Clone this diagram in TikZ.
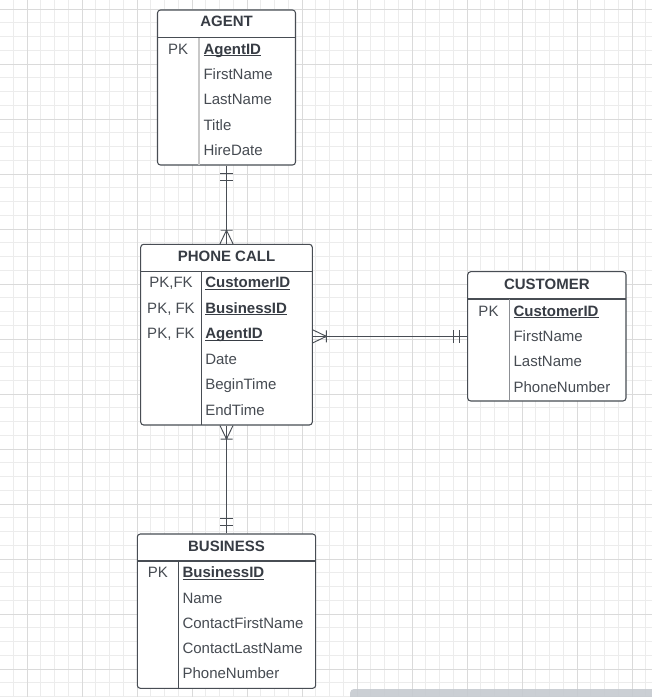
\documentclass[tikz,border=0pt]{standalone}
\usepackage{fontspec}
\setmainfont{Liberation Sans}
\usepackage{xcolor}
\definecolor{erdark}{RGB}{72,77,84}
\definecolor{ertext}{RGB}{70,75,82}
\definecolor{ertitle}{RGB}{55,60,68}
\definecolor{erlightdiv}{RGB}{200,200,200}
\definecolor{ermiddiv}{RGB}{140,143,148}
\definecolor{gridminor}{RGB}{236,236,236}
\definecolor{gridmajor}{RGB}{218,218,218}
\definecolor{scrollgray}{RGB}{198,202,208}
\usepackage{tikz}
\usetikzlibrary{calc}
\newcommand\erpx{0.75pt}
\newcommand\ulkey[1]{\setbox0\hbox{#1}\rlap{\rule[-1.4pt]{\wd0}{0.75pt}}\box0}
\tikzset{
  tbl/.style={draw=erdark, line width=0.8pt, fill=white, rounded corners=2.25pt, inner sep=0pt},
  ttl/.style={font=\fontsize{11.25}{13}\selectfont\bfseries, text=ertitle, anchor=base, inner sep=0pt},
  keytxt/.style={font=\fontsize{11.25}{13}\selectfont, text=ertext, anchor=base, inner sep=0pt},
  attr/.style={font=\fontsize{11.25}{13}\selectfont, text=ertext, anchor=base west, inner sep=0pt},
  pkattr/.style={attr, font=\fontsize{11.25}{13}\selectfont\bfseries, text=ertitle},
  hdrline/.style={erdark, line width=0.9pt},
  conn/.style={erdark, line width=0.7pt},
}

\begin{document}
\begin{tikzpicture}[x=0.75pt, y=-0.75pt]
  \useasboundingbox (0,0) rectangle (652,697);
  % background grid
  \begin{scope}
    \clip (0,0) rectangle (652,697);
    \fill[white] (0,0) rectangle (652,697);
    \foreach \i in {0,...,48} \draw[gridminor, line width=0.75pt] ({-0.5+13.75*\i},0) -- ++(0,697);
    \foreach \i in {0,...,51} \draw[gridminor, line width=0.75pt] (0,{-4.75+13.75*\i}) -- ++(652,0);
    \foreach \i in {0,...,11} \draw[gridmajor, line width=0.75pt] ({27+55*\i},0) -- ++(0,697);
    \foreach \i in {0,...,12} \draw[gridmajor, line width=0.75pt] (0,{9+55*\i}) -- ++(652,0);
    % scroll bar
    \fill[scrollgray, opacity=0.9, rounded corners=3pt] (350,689) rectangle (670,710);
  \end{scope}

  % AGENT
  \node[tbl, minimum width=138*\erpx, minimum height=155*\erpx] (agent) at (226.5,87.5) {};
  \draw[hdrline] (157.5,37.5) -- (295.5,37.5);
  \draw[erlightdiv, line width=1.5pt] (199,38) -- (199,164.5);
  \node[ttl] (agent-title) at (226.5,26.7) {AGENT};
  \node[keytxt] (agent-k1) at (178.2,54.3) {PK};
  \node[pkattr] (agent-a1) at (203.3,54.3) {\ulkey{AgentID}};
  \node[attr] (agent-a2) at (203.3,79.6) {FirstName};
  \node[attr] (agent-a3) at (203.3,104.9) {LastName};
  \node[attr] (agent-a4) at (203.3,130.2) {Title};
  \node[attr] (agent-a5) at (203.3,155.5) {HireDate};

  % PHONE CALL
  \node[tbl, minimum width=171.6*\erpx, minimum height=180.7*\erpx] (phonecall) at (226.5,334.65) {};
  \draw[hdrline] (140.7,271.7) -- (312.3,271.7);
  \draw[erdark, line width=0.8pt] (201.7,271.7) -- (201.7,425);
  \node[ttl] (phonecall-title) at (226.5,261.7) {PHONE CALL};
  \node[keytxt] (phonecall-k1) at (171,287.7) {PK,FK};
  \node[keytxt] (phonecall-k2) at (171,313.2) {PK, FK};
  \node[keytxt] (phonecall-k3) at (171,338.7) {PK, FK};
  \node[pkattr] (phonecall-a1) at (205,287.7) {\ulkey{CustomerID}};
  \node[pkattr] (phonecall-a2) at (205,313.2) {\ulkey{BusinessID}};
  \node[pkattr] (phonecall-a3) at (205,338.7) {\ulkey{AgentID}};
  \node[attr] (phonecall-a4) at (205,364.2) {Date};
  \node[attr] (phonecall-a5) at (205,389.7) {BeginTime};
  \node[attr] (phonecall-a6) at (205,415.2) {EndTime};

  % CUSTOMER
  \node[tbl, minimum width=158.3*\erpx, minimum height=129.3*\erpx] (customer) at (546.85,336.35) {};
  \draw[hdrline] (467.7,299) -- (626,299);
  \draw[ermiddiv, line width=0.8pt] (509.3,299) -- (509.3,401);
  \node[ttl] (customer-title) at (546.85,289.3) {CUSTOMER};
  \node[keytxt] (customer-k1) at (488.5,316) {PK};
  \node[pkattr] (customer-a1) at (513.3,316) {\ulkey{CustomerID}};
  \node[attr] (customer-a2) at (513.3,341.3) {FirstName};
  \node[attr] (customer-a3) at (513.3,366.7) {LastName};
  \node[attr] (customer-a4) at (513.3,392.1) {PhoneNumber};

  % BUSINESS
  \node[tbl, minimum width=178.4*\erpx, minimum height=154.3*\erpx] (business) at (226.5,611.15) {};
  \draw[hdrline] (137.3,561) -- (315.7,561);
  \draw[erdark, line width=0.8pt] (178.3,561) -- (178.3,688.3);
  \node[ttl] (business-title) at (226.5,551) {BUSINESS};
  \node[keytxt] (business-k1) at (157.8,577.7) {PK};
  \node[pkattr] (business-a1) at (182.3,577.7) {\ulkey{BusinessID}};
  \node[attr] (business-a2) at (182.3,603) {Name};
  \node[attr] (business-a3) at (182.3,628.3) {ContactFirstName};
  \node[attr] (business-a4) at (182.3,653.6) {ContactLastName};
  \node[attr] (business-a5) at (182.3,678.9) {PhoneNumber};

  % Agent -- Phone Call (one and only one / one or many)
  \draw[conn] (agent.south) -- (phonecall.north);
  \draw[conn] ($(agent.south)+(-6.3,7.5)$) -- ++(12.6,0)
              ($(agent.south)+(-6.3,14.5)$) -- ++(12.6,0);
  \draw[conn] ($(phonecall.north)+(-6.5,0)$) -- ($(phonecall.north)+(0,-13.5)$) -- ($(phonecall.north)+(6.5,0)$)
              ($(phonecall.north)+(-6,-13.5)$) -- ++(12,0);

  % Phone Call -- Customer
  \coordinate (pc-cu) at (phonecall.east |- customer.west);
  \draw[conn] (pc-cu) -- (customer.west);
  \draw[conn] ($(pc-cu)+(0,-6.5)$) -- ($(pc-cu)+(13.5,0)$) -- ($(pc-cu)+(0,6.5)$)
              ($(pc-cu)+(13.5,-6)$) -- ++(0,12);
  \draw[conn] ($(customer.west)+(-7.5,-6.3)$) -- ++(0,12.6)
              ($(customer.west)+(-14,-6.3)$) -- ++(0,12.6);

  % Phone Call -- Business
  \draw[conn] (phonecall.south) -- (business.north);
  \draw[conn] ($(phonecall.south)+(-6.5,0)$) -- ($(phonecall.south)+(0,13.5)$) -- ($(phonecall.south)+(6.5,0)$)
              ($(phonecall.south)+(-6,13.5)$) -- ++(12,0);
  \draw[conn] ($(business.north)+(-6.3,-8)$) -- ++(12.6,0)
              ($(business.north)+(-6.3,-14.7)$) -- ++(12.6,0);
\end{tikzpicture}
\end{document}
